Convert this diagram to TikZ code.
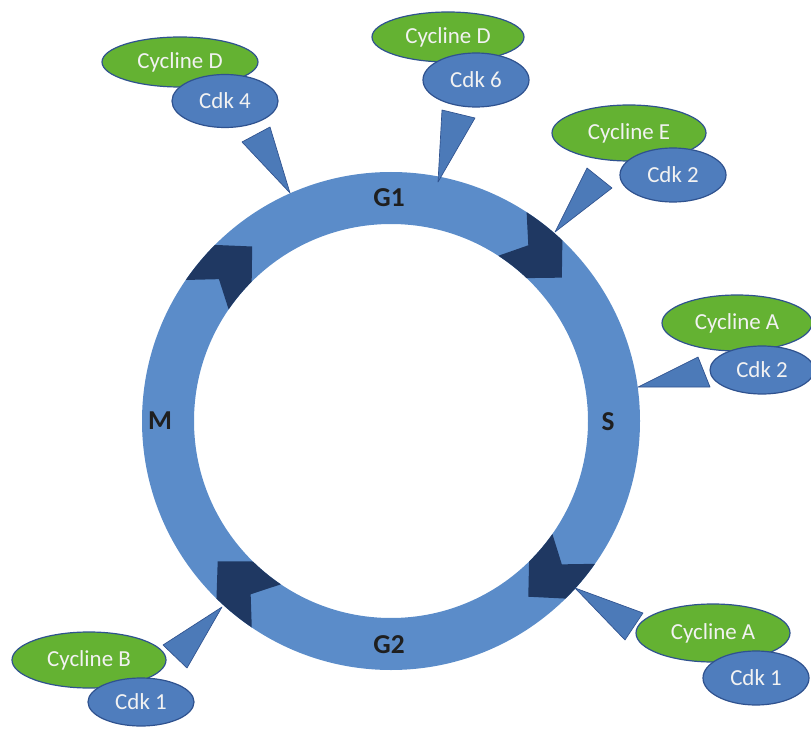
\documentclass[tikz,border=0pt]{standalone}
\usepackage{fontspec}
\setmainfont{Carlito}
\usetikzlibrary{shapes.geometric}
\definecolor{ringc}{RGB}{91,140,201}
\definecolor{chevc}{RGB}{31,56,98}
\definecolor{grnc}{RGB}{100,178,50}
\definecolor{bluc}{RGB}{79,125,189}
\definecolor{tric}{RGB}{76,122,184}
\definecolor{edgec}{RGB}{47,82,143}
\begin{document}
\begin{tikzpicture}[x=0.75pt,y=-0.75pt,
  cyc/.style={ellipse, draw=edgec, line width=0.9pt, fill=grnc, text=white!95!black, inner sep=0pt, font=\fontsize{17.2}{20}\selectfont},
  cdk/.style={ellipse, draw=edgec, line width=0.9pt, fill=bluc, text=white!95!black, inner sep=0pt, font=\fontsize{17.2}{20}\selectfont},
  ptr/.style={fill=tric, draw=edgec, line width=0.5pt, line join=round},
  phase/.style={font=\bfseries\fontsize{20.5}{24}\selectfont, text=black!88}]
\useasboundingbox (0,0) rectangle (811,731);
% ring
\fill[ringc, even odd rule] (391,421) circle (249) (391,421) circle (197);
% chevrons
\begin{scope}[shift={(391,421)}]
\foreach \b in {145.5,57,325,236}{
  \fill[chevc] ({-\b}:249) arc[start angle={-\b}, end angle={-\b+10.5}, radius=249]
    -- ({-\b+17}:223) -- ({-\b+10.5}:197)
    arc[start angle={-\b+10.5}, end angle={-\b}, radius=197]
    -- ({-\b+5}:223) -- cycle;
}
\end{scope}
% pointer tips on the ring
\coordinate (t1) at (290,193);
\coordinate (t2) at (438,182);
\coordinate (t3) at (555,232);
\coordinate (t4) at (638,387);
\coordinate (t5) at (575,588);
\coordinate (t6) at (222,607);
\filldraw[ptr] (242,142) -- (270,127) -- (t1) -- cycle;
\filldraw[ptr] (442,110) -- (475,118) -- (t2) -- cycle;
\filldraw[ptr] (587,168) -- (612,188) -- (t3) -- cycle;
\filldraw[ptr] (698,357) -- (710,387) -- (t4) -- cycle;
\filldraw[ptr] (643,613) -- (625,640) -- (t5) -- cycle;
\filldraw[ptr] (163,645) -- (187,668) -- (t6) -- cycle;
% complexes
\node[cyc, minimum width=117pt, minimum height=37.5pt] (cycD1) at (180,62) {Cycline D};
\node[cdk, minimum width=79.5pt, minimum height=39.75pt] (cdk4) at (225,101) {Cdk 4};
\node[cyc, minimum width=114pt, minimum height=37.5pt] (cycD2) at (448,37) {Cycline D};
\node[cdk, minimum width=79.5pt, minimum height=40.5pt] (cdk6) at (476,80) {Cdk 6};
\node[cyc, minimum width=115.5pt, minimum height=42pt] (cycE) at (629,133) {Cycline E};
\node[cdk, minimum width=79.5pt, minimum height=40.5pt] (cdk2a) at (673,175) {Cdk 2};
\node[cyc, minimum width=112.5pt, minimum height=42pt] (cycA1) at (737,323) {Cycline A};
\node[cdk, minimum width=78pt, minimum height=36pt] (cdk2b) at (762,370) {Cdk 2};
\node[cyc, minimum width=115.5pt, minimum height=43.5pt] (cycA2) at (713,633) {Cycline A};
\node[cdk, minimum width=79.5pt, minimum height=40.5pt] (cdk1a) at (756,678) {Cdk 1};
\node[cyc, minimum width=115.5pt, minimum height=42pt] (cycB) at (89,660) {Cycline B};
\node[cdk, minimum width=79.5pt, minimum height=36pt] (cdk1b) at (141,702) {Cdk 1};
% phases
\node[phase] (G1) at (389,198) {G1};
\node[phase] (M) at (160,421) {M};
\node[phase] (S) at (608,422) {S};
\node[phase] (G2) at (389,645) {G2};
\end{tikzpicture}
\end{document}
